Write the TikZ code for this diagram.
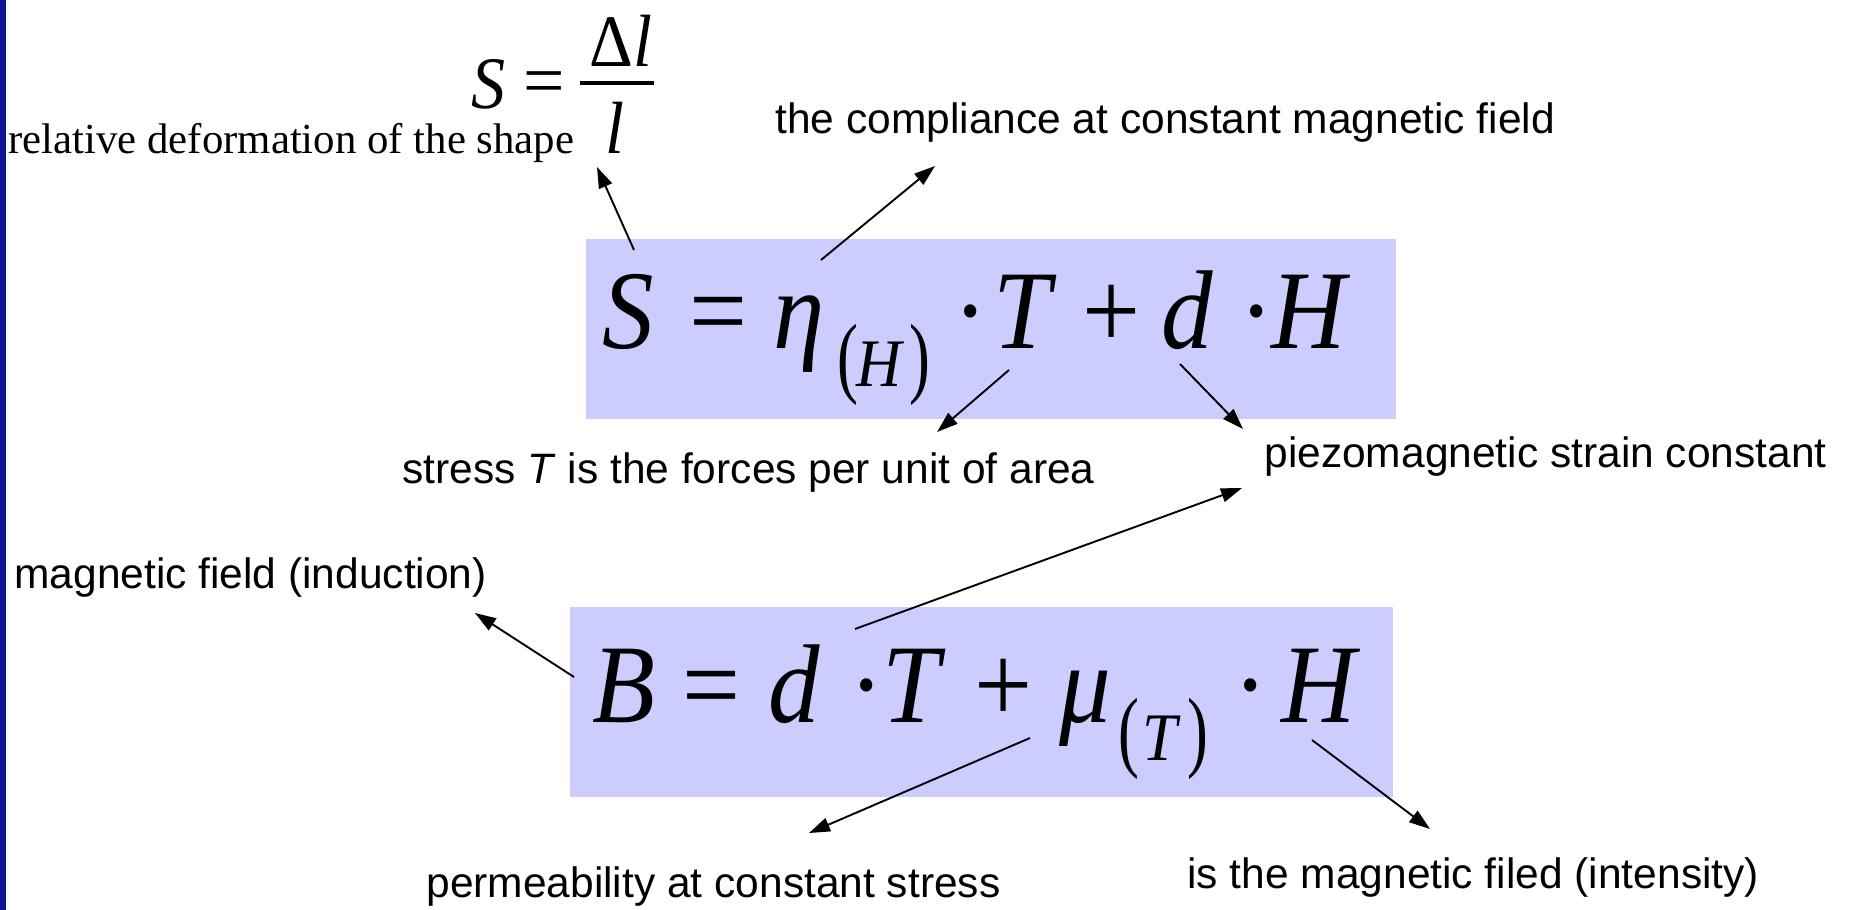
\documentclass[tikz,border=0pt]{standalone}
\usepackage{fontspec}
\usepackage{graphicx}
\setmainfont{Liberation Serif}
\setsansfont{Liberation Sans}
\newfontfamily\fmlfont[FakeStretch=0.92]{Liberation Serif}
\usetikzlibrary{arrows.meta}
\newlength\pxu \setlength\pxu{0.5pt}
\newcommand\at[2]{\makebox[0pt][l]{\hspace*{#1\pxu}#2}}
\newcommand\bigf{\fmlfont\fontsize{56}{60}\selectfont}
\newcommand\topfml{\fmlfont\fontsize{37}{40}\selectfont}
\newcommand\subf{\fontsize{34}{36}\selectfont}
\newcommand\sub[1]{\raisebox{-38\pxu}{\subf #1}}
\newcommand\tparen[1]{\raisebox{-38\pxu}{\subf\upshape\scalebox{1}[1.32]{#1}}}
\definecolor{boxfill}{HTML}{CCCCFF}
\definecolor{barblue}{RGB}{20,20,150}
\tikzset{
  lbl/.style={font=\fontsize{21.25}{25}\selectfont\sffamily, anchor=base west, inner sep=0pt},
  slbl/.style={font=\fontsize{21.4}{24}\selectfont\rmfamily, anchor=base west, inner sep=0pt},
  fbox/.style={fill=boxfill, draw=none, inner sep=0pt},
  fml/.style={anchor=base west, inner sep=0pt},
  ptr/.style={draw=black, line width=0.95pt, -{Triangle[length=10.5pt,width=7pt]}}
}
\begin{document}
\begin{tikzpicture}[x=0.5pt,y=-0.5pt]
\useasboundingbox[fill=white] (0,0) rectangle (1849,910);
\fill[barblue] (0,0) rectangle (6,910);

% boxes
\node[fbox, minimum width=405pt, minimum height=90pt] (box1) at (991,329) {};
\node[fbox, minimum width=411.5pt, minimum height=95pt] (box2) at (981.5,702) {};

% top formula S = Delta l / l
\node[fml] (topf) at (0,108) {\topfml\itshape
  \at{470}{S}\at{522}{\upshape\raisebox{3\pxu}{\scalebox{1.08}[1]{=}}}};
\node[fml] (numf) at (0,66) {\topfml\itshape
  \at{588}{\upshape Δ}\at{632}{l}};
\node[fml] (denf) at (0,153) {\topfml\itshape
  \at{604}{l}};
\draw[line width=1.6pt] (580,83) -- (654,83);

% formula 1
\node[fml] (f1) at (0,348) {\bigf\itshape
  \at{601}{S}\at{688}{\upshape =}\at{772}{η}%
  \at{836}{\tparen{(}}\at{855}{\sub{H}}\at{908}{\tparen{)}}%
  \at{952}{\upshape ·}\at{992}{T}\at{1081}{\upshape +}\at{1160}{d}%
  \at{1238}{\upshape ·}\at{1270}{H}};

% formula 2
\node[fml] (f2) at (0,722) {\bigf\itshape
  \at{591}{B}\at{681}{\upshape =}\at{767}{d}%
  \at{848}{\upshape ·}\at{881}{T}\at{973}{\upshape +}\at{1058}{μ}%
  \at{1117}{\tparen{(}}\at{1141}{\sub{T}}\at{1186}{\tparen{)}}%
  \at{1232}{\upshape ·}\at{1280}{H}};

% labels
\node[slbl] (lrel) at (8,153) {relative deformation of the shape};
\node[lbl] (lcomp) at (775,133) {the compliance at constant magnetic field};
\node[lbl] (lstress) at (402,483) {stress \textit{T} is the forces per unit of area};
\node[lbl] (lpiezo) at (1264,467) {piezomagnetic strain constant};
\node[lbl] (lind) at (14,588) {magnetic field (induction)};
\node[lbl] (lperm) at (426,897) {permeability at constant stress};
\node[lbl] (lint) at (1187,888) {is the magnetic filed (intensity)};

% arrow ends
\coordinate (a1s) at (634,250); \coordinate (a1e) at (597,167);
\coordinate (a2s) at (821,260); \coordinate (a2e) at (935,166);
\coordinate (a3s) at (1009,370); \coordinate (a3e) at (937,432);
\coordinate (a4s) at (1180,364); \coordinate (a4e) at (1243,429);
\coordinate (a5s) at (855,629); \coordinate (a5e) at (1242,488);
\coordinate (a6s) at (574,677); \coordinate (a6e) at (475,613);
\coordinate (a7s) at (1030,738); \coordinate (a7e) at (809,833);
\coordinate (a8s) at (1312,740); \coordinate (a8e) at (1430,829);

\draw[ptr] (a1s) -- (a1e);
\draw[ptr] (a2s) -- (a2e);
\draw[ptr] (a3s) -- (a3e);
\draw[ptr] (a4s) -- (a4e);
\draw[ptr] (a5s) -- (a5e);
\draw[ptr] (a6s) -- (a6e);
\draw[ptr] (a7s) -- (a7e);
\draw[ptr] (a8s) -- (a8e);
\end{tikzpicture}
\end{document}
